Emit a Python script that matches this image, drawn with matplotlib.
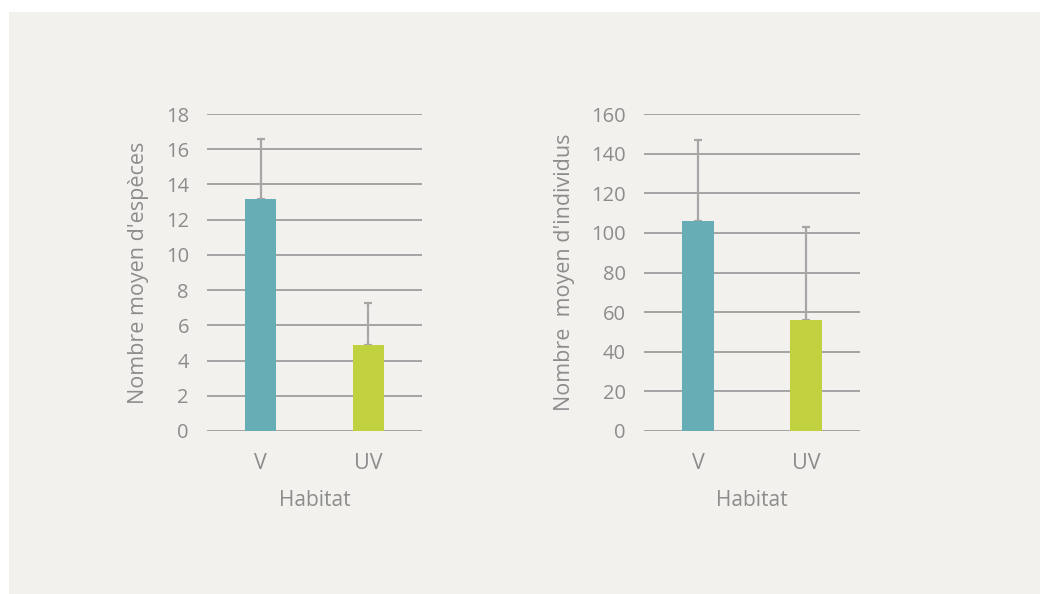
import matplotlib.pyplot as plt
from matplotlib.patches import Rectangle

habitats = ["V", "UV"]
especes = [13.2, 4.9]
especes_err = [3.4, 2.35]
individus = [106, 56]
individus_err = [41, 47]
bar_colors = ["#67adb5", "#c2d13f"]

text_color = "#8c8c8c"
grid_color = "#a3a3a3"
bg = "#f2f1ee"

plt.rcParams["font.family"] = ["Open Sans", "DejaVu Sans"]

fig = plt.figure(figsize=(10.4, 5.94), dpi=100)
fig.patch.set_facecolor("white")
fig.patches.append(Rectangle((9 / 1040, 0), 1, 1 - 12 / 594, transform=fig.transFigure,
                             facecolor=bg, edgecolor="none", zorder=-10))


def panel(rect, values, errors, ymax, step, ylabel):
    ax = fig.add_axes(rect)
    ax.set_facecolor("none")
    x = range(len(habitats))
    ax.bar(x, values, width=0.29, color=bar_colors, zorder=3)
    ax.errorbar(x, values, yerr=[[0] * len(errors), errors], fmt="none",
                ecolor="#a6a6a6", elinewidth=1.6, capsize=2.6, capthick=1.6, zorder=2)
    ax.set_xlim(-0.5, 1.5)
    ax.set_ylim(0, ymax)
    ax.set_yticks(range(0, ymax + 1, step))
    ax.yaxis.grid(True, color=grid_color, linewidth=1.4, zorder=0)
    ax.set_axisbelow(True)
    for s in ax.spines.values():
        s.set_visible(False)
    ax.tick_params(length=0, labelcolor=text_color)
    ax.tick_params(axis="y", labelsize=14.5, pad=13)
    ax.tick_params(axis="x", labelsize=15.5, pad=16)
    ax.set_xticks(list(x))
    ax.set_xticklabels(habitats)
    ax.set_xlabel("Habitat", color=text_color, fontsize=15, labelpad=11)
    ax.set_ylabel(ylabel, color=text_color, fontsize=15.5, labelpad=12)
    return ax


W, H = 1040, 594
panel([207 / W, 1 - 431 / H, 215 / W, 317 / H], especes, especes_err, 18, 2,
      "Nombre moyen d'espèces")
panel([644 / W, 1 - 431 / H, 216 / W, 317 / H], individus, individus_err, 160, 20,
      "Nombre  moyen d'individus")

fig.savefig("out.png", dpi=100, facecolor=fig.get_facecolor())
